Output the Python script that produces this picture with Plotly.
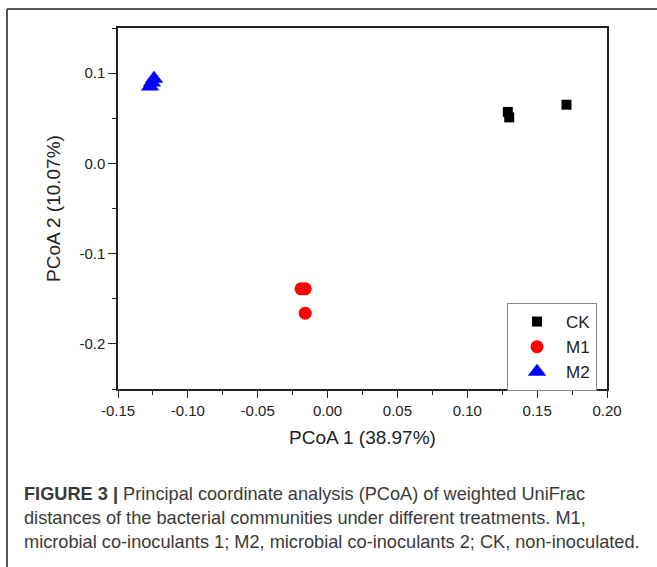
import plotly.graph_objects as go

# ---- data ----
ck_x = [0.129, 0.130, 0.171]
ck_y = [0.057, 0.051, 0.065]
m1_x = [-0.019, -0.016, -0.016]
m1_y = [-0.139, -0.139, -0.166]
m2_x = [-0.1242, -0.1257, -0.1271]
m2_y = [0.0939, 0.0895, 0.0851]

x_ticks = [-0.15, -0.10, -0.05, 0.00, 0.05, 0.10, 0.15, 0.20]
x_tick_text = ["-0.15", "-0.10", "-0.05", "0.00", "0.05", "0.10", "0.15", "0.20"]
y_ticks = [-0.2, -0.1, 0.0, 0.1]
y_tick_text = ["-0.2", "-0.1", "0.0", "0.1"]

caption_lines = [
    "<b>FIGURE 3 |</b> Principal coordinate analysis (PCoA) of weighted UniFrac",
    "distances of the bacterial communities under different treatments. M1,",
    "microbial co-inoculants 1; M2, microbial co-inoculants 2; CK, non-inoculated.",
]

W, H = 657, 567
L, R, T, B = 118, 50, 28, 178
pw, ph = W - L - R, H - T - B
FONT = "Liberation Sans, Arial"

fig = go.Figure()
fig.add_trace(go.Scatter(x=ck_x, y=ck_y, mode="markers", name="CK",
                         marker=dict(symbol="square", size=10, color="black")))
fig.add_trace(go.Scatter(x=m1_x, y=m1_y, mode="markers", name="M1",
                         marker=dict(symbol="circle", size=13, color="#ff0000")))
fig.add_trace(go.Scatter(x=m2_x, y=m2_y, mode="markers", name="M2",
                         marker=dict(symbol="triangle-up", size=16, color="#0000ff")))

axis_font = dict(family=FONT, size=15, color="#222")
title_font = dict(family=FONT, size=19, color="#222")
fig.update_xaxes(range=[-0.15, 0.20], tickvals=x_ticks, ticktext=x_tick_text,
                 showgrid=False, zeroline=False, showline=True, mirror=True,
                 linecolor="#222", linewidth=1.5, ticks="outside", ticklen=7,
                 tickcolor="#222", tickfont=axis_font,
                 minor=dict(ticks="outside", dtick=0.025, tick0=0, ticklen=4, tickcolor="#222"),
                 title=dict(text="PCoA 1 (38.97%)", font=title_font, standoff=13))
fig.update_yaxes(range=[-0.25, 0.15], tickvals=y_ticks, ticktext=y_tick_text,
                 showgrid=False, zeroline=False, showline=True, mirror=True,
                 linecolor="#222", linewidth=1.5, ticks="outside", ticklen=8,
                 tickcolor="#222", tickfont=axis_font,
                 minor=dict(ticks="outside", dtick=0.05, tick0=0, ticklen=4, tickcolor="#222"),
                 title=dict(text="PCoA 2 (10.07%)", font=title_font, standoff=14))

# outer frame lines (top and left)
fx = (7 - L) / pw
fy = 1 + (T - 9) / ph
fig.add_shape(type="line", xref="paper", yref="paper", x0=fx, x1=(W + 5 - L) / pw, y0=fy, y1=fy,
              line=dict(color="#555", width=2))
fig.add_shape(type="line", xref="paper", yref="paper", x0=fx, x1=fx, y0=fy, y1=-(H + 5 - T - ph) / ph,
              line=dict(color="#555", width=2))

for i, line in enumerate(caption_lines):
    ypix = 494 + 24 * i
    fig.add_annotation(text=line, xref="paper", yref="paper",
                       x=(22 - L) / pw, y=(T + ph - ypix) / ph,
                       xanchor="left", yanchor="middle", showarrow=False, align="left",
                       font=dict(family=FONT, size=18.2, color="#3a3a3a"))

fig.update_layout(
    width=W, height=H, margin=dict(l=L, r=R, t=T, b=B),
    paper_bgcolor="white", plot_bgcolor="white",
    legend=dict(x=(507 - L) / pw, y=(T + ph - 303) / ph, xanchor="left", yanchor="top",
                bordercolor="#888", borderwidth=1, bgcolor="white",
                font=dict(family=FONT, size=17, color="#222"),
                itemwidth=48, tracegroupgap=0),
    showlegend=True,
)

fig.write_html("out.html", config={"displayModeBar": False},
               post_script="document.body.style.margin='0';")
